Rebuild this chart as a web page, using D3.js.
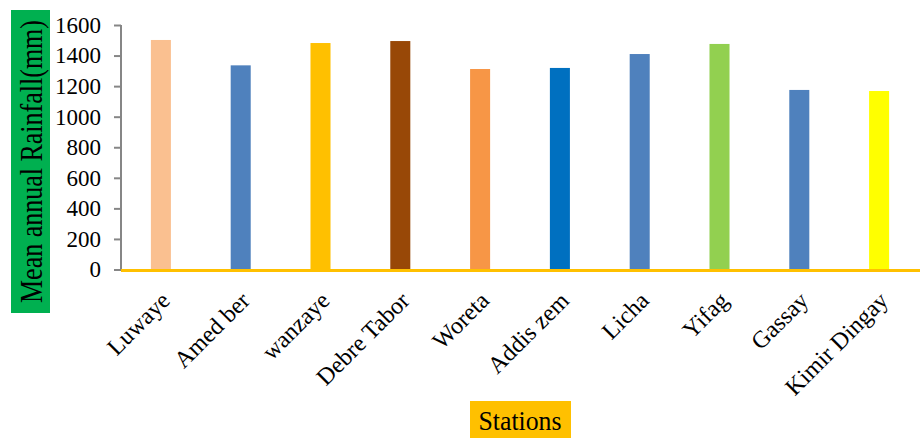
<!DOCTYPE html>
<html>
<head>
<meta charset="utf-8">
<script src="https://cdn.jsdelivr.net/npm/d3@7"></script>
<style>
  html, body { margin: 0; padding: 0; background: #fff; }
  svg { display: block; }
  text { font-family: "Liberation Serif", "Times New Roman", serif; fill: #000; }
</style>
</head>
<body>
<svg id="chart" width="920" height="438"></svg>
<script>
const stations = ["Luwaye", "Amed ber", "wanzaye", "Debre Tabor", "Woreta", "Addis zem", "Licha", "Yifag", "Gassay", "Kimir Dingay"];
const rainfall = [1502, 1336, 1482, 1495, 1312, 1319, 1410, 1476, 1175, 1168];
const barColors = ["#FAC090", "#4F81BD", "#FFC000", "#984807", "#F79646", "#0070C0", "#4F81BD", "#92D050", "#4F81BD", "#FFFF00"];
const yTicks = [0, 200, 400, 600, 800, 1000, 1200, 1400, 1600];
const yTitle = "Mean annual Rainfall(mm)";
const xTitle = "Stations";

const svg = d3.select("#chart");

const x = d3.scaleBand().domain(stations).range([121, 919]).paddingInner(0.749).paddingOuter(0.3745);
const y = d3.scaleLinear().domain([0, 1600]).range([269.5, 25]);

// Y axis
const yAxis = d3.axisLeft(y).tickValues(yTicks).tickSize(7).tickPadding(13).tickFormat(d3.format("d"));
const gy = svg.append("g").attr("transform", "translate(121,0)").call(yAxis);
gy.select(".domain").attr("stroke", "#868686").attr("stroke-width", 2).attr("d", `M0,${y(1600)}V${y(0)}`);
gy.selectAll(".tick line").attr("stroke", "#868686").attr("stroke-width", 2);
gy.selectAll(".tick text")
  .style("font-family", '"Liberation Serif", "Times New Roman", serif')
  .style("font-size", "23px").attr("fill", "#000");

// Bars
svg.append("g").selectAll("rect").data(stations).join("rect")
  .attr("x", d => x(d))
  .attr("width", x.bandwidth())
  .attr("y", (d, i) => y(rainfall[i]))
  .attr("height", (d, i) => y(0) - y(rainfall[i]))
  .attr("fill", (d, i) => barColors[i]);

// X axis (orange baseline)
const xAxis = d3.axisBottom(x).tickSize(0).tickPadding(0);
const gx = svg.append("g").attr("transform", `translate(0,${y(0) + 1})`).call(xAxis);
gx.select(".domain").attr("stroke", "#FFC000").attr("stroke-width", 3).attr("d", "M121,0H920");
gx.selectAll(".tick text")
  .style("font-family", '"Liberation Serif", "Times New Roman", serif')
  .style("font-size", "24px").attr("fill", "#000")
  .attr("text-anchor", "end")
  .attr("dy", null).attr("y", null)
  .attr("transform", "translate(10.5,31.5) rotate(-45)");

// Y title with green box
svg.append("rect").attr("x", 11).attr("y", 10).attr("width", 39).attr("height", 303).attr("fill", "#00B050");
svg.append("text")
  .attr("transform", "translate(42,161.5) rotate(-90)")
  .attr("text-anchor", "middle")
  .attr("textLength", 283).attr("lengthAdjust", "spacingAndGlyphs")
  .style("font-size", "31px")
  .text(yTitle);

// X title with orange box
svg.append("rect").attr("x", 470).attr("y", 401).attr("width", 101).attr("height", 37).attr("fill", "#FFC000");
svg.append("text")
  .attr("x", 520).attr("y", 430)
  .attr("text-anchor", "middle")
  .attr("textLength", 83).attr("lengthAdjust", "spacingAndGlyphs")
  .style("font-size", "27px")
  .text(xTitle);
</script>
</body>
</html>
